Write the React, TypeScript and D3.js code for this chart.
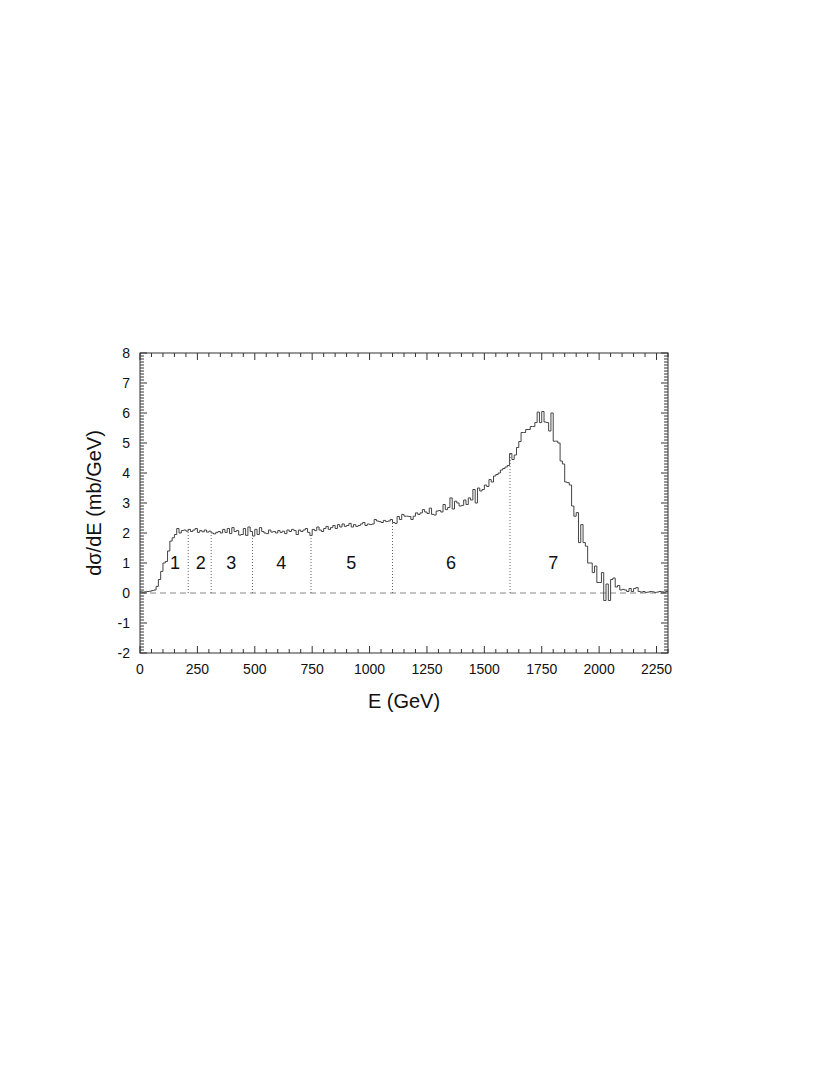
import React from 'react';
import * as d3 from 'd3';

// Histogram: bins of 10 GeV starting at 0 GeV
const binWidth = 10;
const binValues: number[] = [
  0.04, 0.03, 0.04, 0.05, 0.06, 0.08, 0.10, 0.22, 0.45, 0.72,
  1.00, 1.05, 1.40, 1.73, 1.84, 1.95, 2.15, 2.00, 2.08, 2.10,
  2.06, 2.12, 2.05, 2.10, 2.15, 2.02, 2.08, 2.04, 2.10, 2.03,
  2.06, 2.00, 1.97, 2.02, 2.05, 2.00, 2.12, 2.02, 2.15, 1.98,
  2.18, 2.05, 2.08, 1.93, 1.95, 2.15, 1.92, 2.20, 2.05, 1.90,
  2.12, 1.95, 2.18, 2.05, 2.00, 1.98, 2.10, 2.03, 2.05, 2.00,
  2.08, 2.02, 2.06, 1.98, 2.10, 2.05, 2.12, 2.08, 1.95, 2.10,
  2.05, 2.10, 2.15, 2.02, 1.92, 2.12, 2.08, 2.20, 2.10, 2.05,
  2.15, 2.22, 2.12, 2.18, 2.25, 2.15, 2.28, 2.20, 2.30, 2.22,
  2.25, 2.32, 2.20, 2.28, 2.22, 2.25, 2.30, 2.35, 2.25, 2.30,
  2.28, 2.30, 2.45, 2.40, 2.38, 2.35, 2.42, 2.38, 2.40, 2.45,
  2.35, 2.32, 2.55, 2.45, 2.62, 2.56, 2.56, 2.55, 2.45, 2.56,
  2.67, 2.62, 2.67, 2.78, 2.70, 2.65, 2.83, 2.62, 2.60, 2.73,
  2.75, 2.70, 2.95, 2.78, 2.85, 3.17, 2.80, 3.06, 3.00, 2.90,
  2.92, 3.10, 2.95, 3.17, 3.10, 3.45, 3.00, 3.50, 3.40, 3.45,
  3.60, 3.55, 3.78, 3.70, 3.90, 3.95, 4.00, 4.10, 4.15, 4.20,
  4.25, 4.65, 4.45, 4.60, 4.85, 5.05, 5.35, 5.35, 5.45, 5.45,
  5.55, 5.55, 5.68, 6.03, 5.68, 6.05, 5.70, 5.68, 5.40, 6.00,
  5.06, 5.06, 5.00, 4.40, 4.30, 3.70, 3.68, 3.60, 2.90, 2.56,
  2.68, 1.68, 2.28, 1.68, 1.56, 1.00, 1.00, 0.68, 0.90, 0.35,
  0.35, 0.68, -0.25, 0.30, -0.25, 0.45, 0.50, 0.20, 0.25, 0.10,
  0.12, 0.10, 0.05, 0.15, 0.05, 0.15, 0.18, 0.05, 0.03, 0.05,
  0.02, 0.03, 0.05, 0.04, 0.02, 0.03, 0.05, 0.04, 0.03, 0.05,
];

const regionBoundaries = [210, 310, 490, 745, 1100, 1612];
const regionLabels = ['1', '2', '3', '4', '5', '6', '7'];
const regionLabelX = [152, 265, 397, 615, 920, 1355, 1800];
const regionLabelY = 1.0;

const xDomain: [number, number] = [0, 2300];
const yDomain: [number, number] = [-2, 8];
const xMajorTicks = [0, 250, 500, 750, 1000, 1250, 1500, 1750, 2000, 2250];
const yMajorTicks = [-2, -1, 0, 1, 2, 3, 4, 5, 6, 7, 8];
const xMinorStep = 50;
const yMinorStep = 0.1;

const xTitle = 'E (GeV)';
const yTitle = 'dσ/dE (mb/GeV)';

const FONT = '"Liberation Sans", Arial, Helvetica, sans-serif';

export default function App() {
  const left = 140, right = 668, top = 353, bottom = 653;
  const x = d3.scaleLinear().domain(xDomain).range([left, right]);
  const y = d3.scaleLinear().domain(yDomain).range([bottom, top]);

  const pts: [number, number][] = binValues.map((v, i) => [i * binWidth, v]);
  pts.push([binValues.length * binWidth, binValues[binValues.length - 1]]);
  const line = d3.line<[number, number]>()
    .x(d => x(d[0]))
    .y(d => y(d[1]))
    .curve(d3.curveStepAfter);
  const histPath = line(pts) || '';

  const valueAt = (e: number) => binValues[Math.min(binValues.length - 1, Math.floor(e / binWidth))];

  const xMinor = d3.range(xDomain[0], xDomain[1] + 0.001, xMinorStep);
  const yMinor = d3.range(0, 101).map(i => yDomain[0] + i * yMinorStep).filter(v => v <= yDomain[1] + 1e-6);
  const isXMajor = (v: number) => xMajorTicks.some(t => Math.abs(t - v) < 1e-6);
  const isYMajor = (v: number) => yMajorTicks.some(t => Math.abs(t - v) < 1e-6);

  const axisColor = '#333';
  const majorLen = 7, minorLen = 4;

  return (
    <svg width={830} height={1075} style={{ position: 'absolute', left: 0, top: 0, background: '#fff' }}
      fontFamily={FONT}>
      {/* zero dashed line */}
      <line x1={left} x2={right} y1={y(0)} y2={y(0)} stroke="#888" strokeWidth={1} strokeDasharray="6,4" />
      {/* region dotted lines */}
      {regionBoundaries.map((b, i) => (
        <line key={'rb' + i} x1={x(b)} x2={x(b)} y1={y(0)} y2={y(valueAt(b))}
          stroke="#666" strokeWidth={1} strokeDasharray="1,2" />
      ))}
      {/* histogram */}
      <path d={histPath} fill="none" stroke="#444" strokeWidth={1} />
      {/* region labels */}
      {regionLabels.map((l, i) => (
        <text key={'rl' + i} x={x(regionLabelX[i])} y={y(regionLabelY)} textAnchor="middle"
          dominantBaseline="central" fontSize={18} fill="#111">{l}</text>
      ))}
      {/* frame */}
      <rect x={left} y={top} width={right - left} height={bottom - top} fill="none" stroke={axisColor} strokeWidth={1} />
      {/* x ticks */}
      {xMinor.map((v, i) => {
        const len = isXMajor(v) ? majorLen : minorLen;
        return (
          <g key={'xt' + i}>
            <line x1={x(v)} x2={x(v)} y1={bottom} y2={bottom - len} stroke={axisColor} strokeWidth={1} />
            <line x1={x(v)} x2={x(v)} y1={top} y2={top + len} stroke={axisColor} strokeWidth={1} />
          </g>
        );
      })}
      {/* y ticks */}
      {yMinor.map((v, i) => {
        const len = isYMajor(v) ? majorLen : minorLen;
        return (
          <g key={'yt' + i}>
            <line x1={left} x2={left + len} y1={y(v)} y2={y(v)} stroke={axisColor} strokeWidth={1} />
            <line x1={right} x2={right - len} y1={y(v)} y2={y(v)} stroke={axisColor} strokeWidth={1} />
          </g>
        );
      })}
      {/* x tick labels */}
      {xMajorTicks.map((t, i) => (
        <text key={'xl' + i} x={x(t)} y={bottom + 21} textAnchor="middle" fontSize={14} fill="#111">{t}</text>
      ))}
      {/* y tick labels */}
      {yMajorTicks.map((t, i) => (
        <text key={'yl' + i} x={left - 10} y={y(t)} textAnchor="end" dominantBaseline="central" fontSize={14} fill="#111">{t}</text>
      ))}
      {/* titles */}
      <text x={(left + right) / 2} y={708} textAnchor="middle" fontSize={20} fill="#111">{xTitle}</text>
      <text transform={`translate(101, ${(top + bottom) / 2}) rotate(-90)`} textAnchor="middle" fontSize={20} fill="#111">{yTitle}</text>
    </svg>
  );
}
